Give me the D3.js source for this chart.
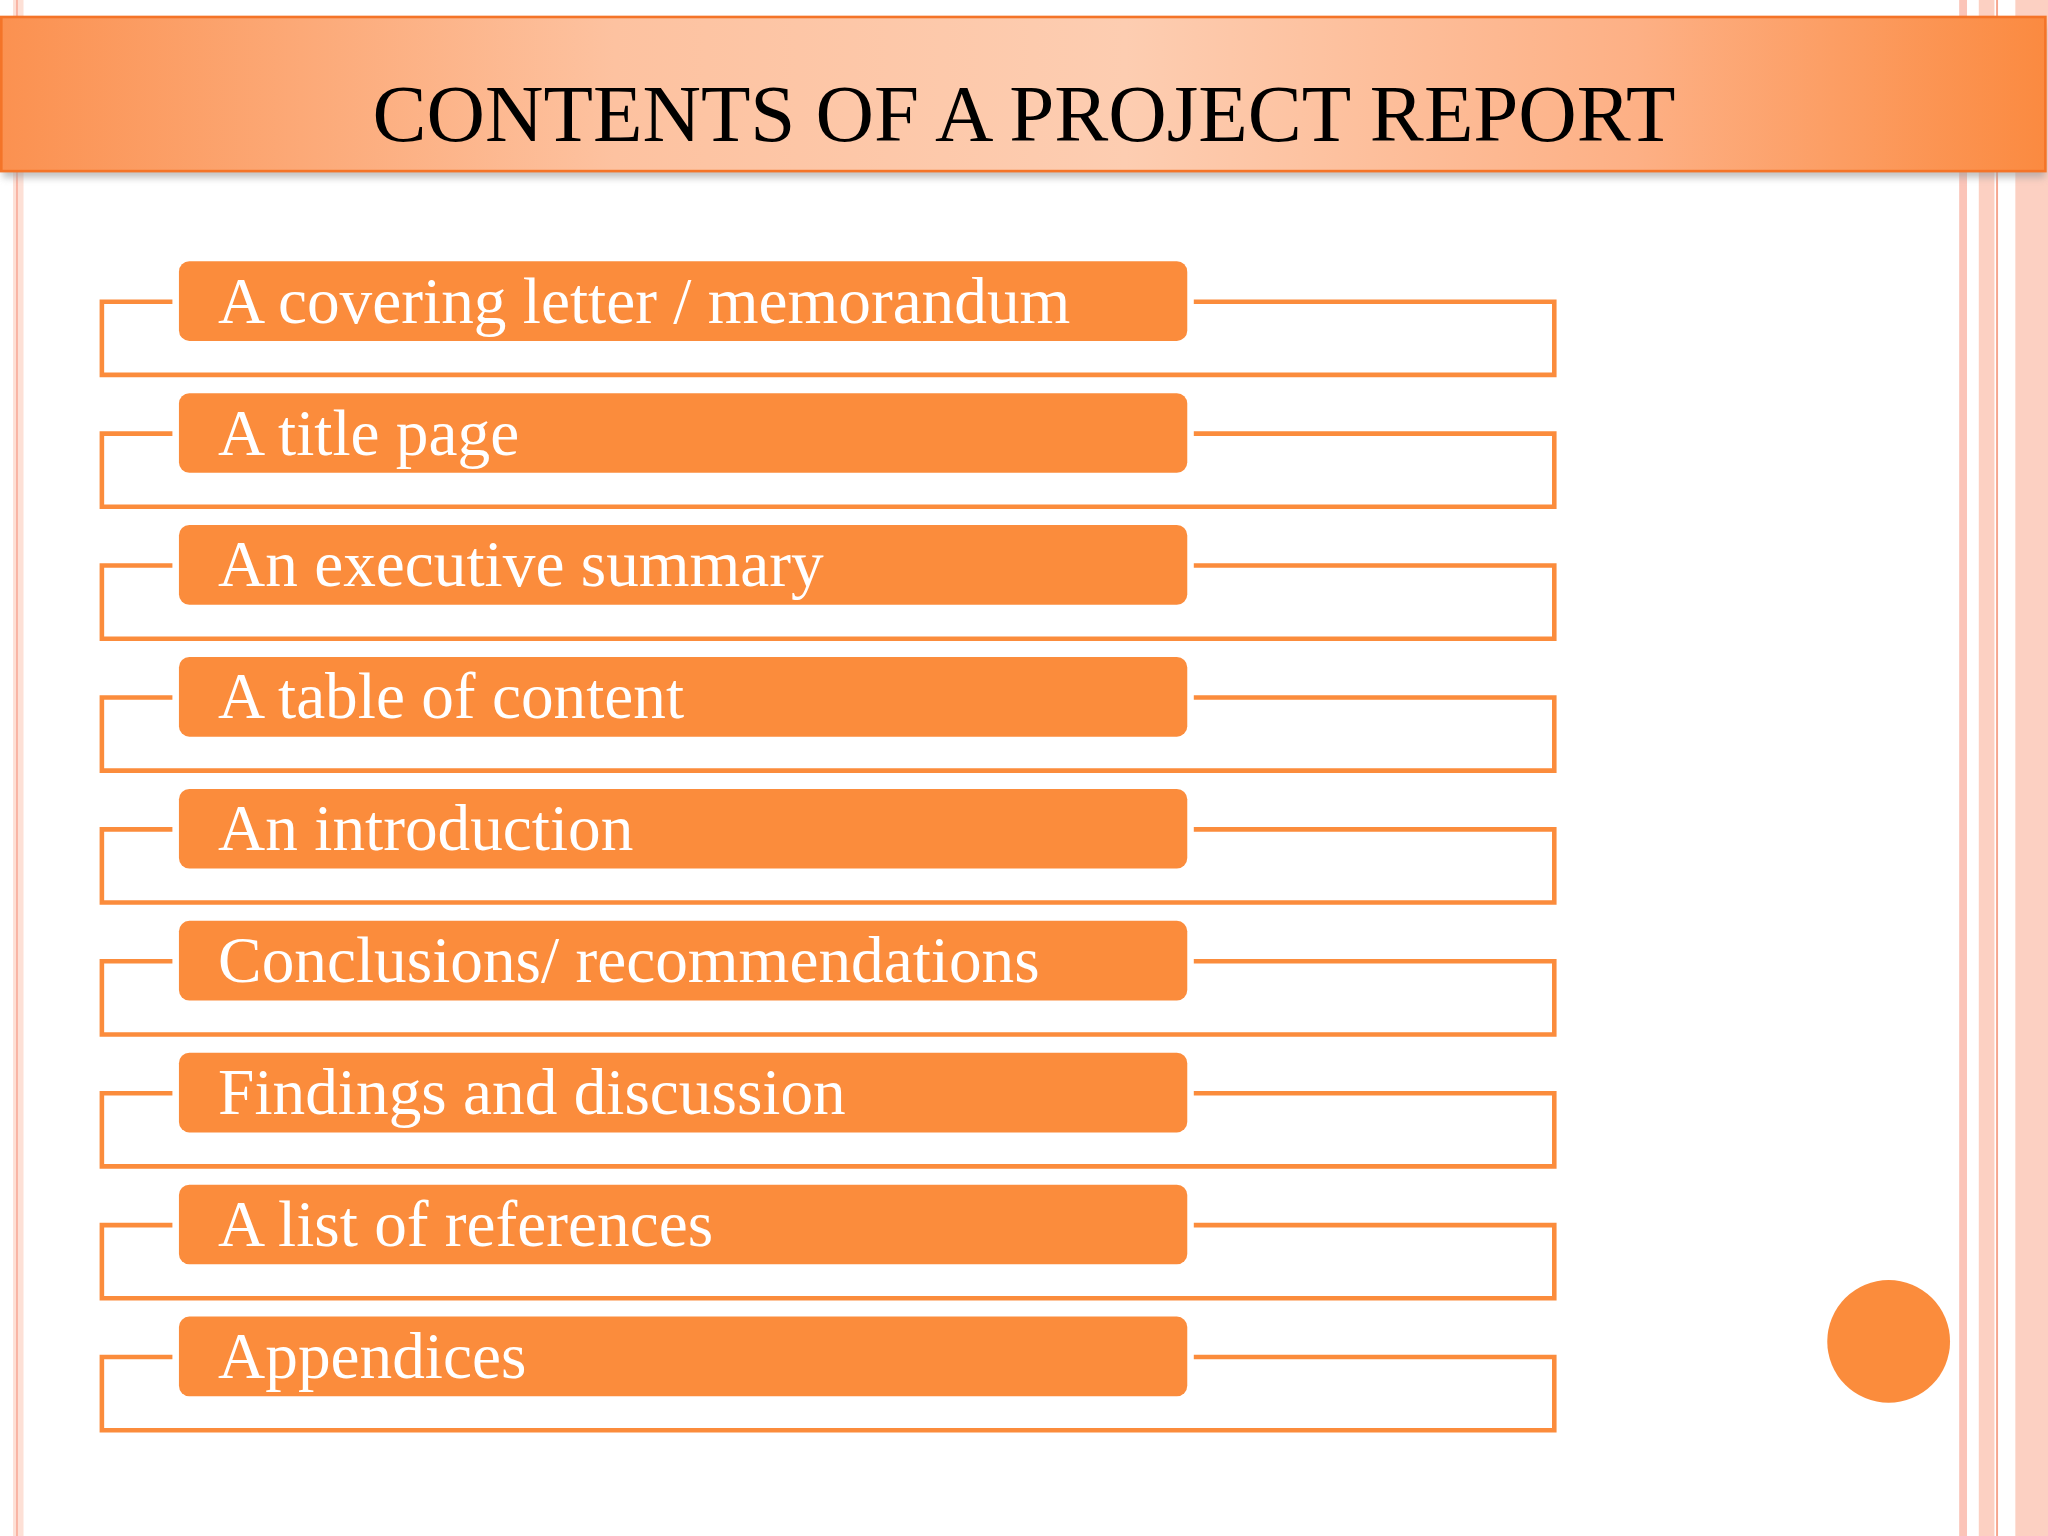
<!DOCTYPE html>
<html><head><meta charset="utf-8">
<script src="https://cdn.jsdelivr.net/npm/d3@7"></script>
<style>html,body{margin:0;padding:0;background:#fff;}</style>
</head><body>
<svg id="chart" width="2048" height="1536"></svg>
<script>
const title = 'CONTENTS OF A PROJECT REPORT';
const items = [
  'A covering letter / memorandum',
  'A title page',
  'An executive summary',
  'A table of content',
  'An introduction',
  'Conclusions/ recommendations',
  'Findings and discussion',
  'A list of references',
  'Appendices'
];

const orange = '#fb8c3c';
const svg = d3.select('#chart').attr('viewBox', '0 0 1568 1176');
const defs = svg.append('defs');

const grad = defs.append('linearGradient').attr('id', 'hdr');
grad.append('stop').attr('offset', '0%').attr('stop-color', '#fb9150');
grad.append('stop').attr('offset', '30%').attr('stop-color', '#fdc2a0');
grad.append('stop').attr('offset', '55%').attr('stop-color', '#fdcdb1');
grad.append('stop').attr('offset', '80%').attr('stop-color', '#fdb085');
grad.append('stop').attr('offset', '100%').attr('stop-color', '#fb8a40');

const blur = defs.append('filter').attr('id', 'sh').attr('height', '1.5');
blur.append('feGaussianBlur').attr('stdDeviation', 3);

// side stripes
svg.append('rect').attr('x', 10).attr('y', 0).attr('width', 8).attr('height', 1176).attr('fill', '#fde0d6');
svg.append('line').attr('x1', 13).attr('x2', 13).attr('y1', 0).attr('y2', 1176).attr('stroke', '#f9b4a4').attr('stroke-width', 1.5);
svg.append('rect').attr('x', 1500).attr('y', 0).attr('width', 6).attr('height', 1176).attr('fill', '#fbc4b8');
svg.append('rect').attr('x', 1515).attr('y', 0).attr('width', 12).attr('height', 1176).attr('fill', '#fcd0c2');
svg.append('line').attr('x1', 1529).attr('x2', 1529).attr('y1', 0).attr('y2', 1176).attr('stroke', '#f6a58e').attr('stroke-width', 1.5);
svg.append('rect').attr('x', 1543).attr('y', 0).attr('width', 25).attr('height', 1176).attr('fill', '#fcd0c2');

// header band
svg.append('rect').attr('x', 2).attr('y', 20).attr('width', 1564).attr('height', 116).attr('fill', '#999').attr('opacity', 0.6).attr('filter', 'url(#sh)');
svg.append('rect').attr('x', 1).attr('y', 13).attr('width', 1565).attr('height', 118)
  .attr('fill', 'url(#hdr)').attr('stroke', '#f47428').attr('stroke-width', 2);
svg.append('text').attr('x', 784).attr('y', 108).attr('text-anchor', 'middle')
  .attr('font-family', 'Liberation Serif, serif').attr('font-size', 62).attr('fill', '#000')
  .text(title);

// rows
const y = d3.scaleBand().domain(items).range([200, 200 + 101 * items.length]).paddingInner(0).paddingOuter(0);
const x = d3.scaleLinear().domain([0, 1]).range([78, 1190]);

const rows = svg.append('g').selectAll('g').data(items).join('g')
  .attr('transform', d => `translate(0,${y(d)})`);

rows.append('path')
  .attr('d', `M${x(0) + 54},31 H${x(0)} V87 H${x(1)} V31 H914`)
  .attr('fill', 'none').attr('stroke', orange).attr('stroke-width', 3.5);

rows.append('rect').attr('x', 137).attr('y', 0).attr('width', 772).attr('height', 61)
  .attr('rx', 8).attr('fill', orange);

rows.append('text').attr('x', 167).attr('y', 47)
  .attr('font-family', 'Liberation Serif, serif').attr('font-size', 50).attr('fill', '#fff')
  .text(d => d);

svg.append('circle').attr('cx', 1446).attr('cy', 1027).attr('r', 47).attr('fill', orange);
</script>
</body></html>
